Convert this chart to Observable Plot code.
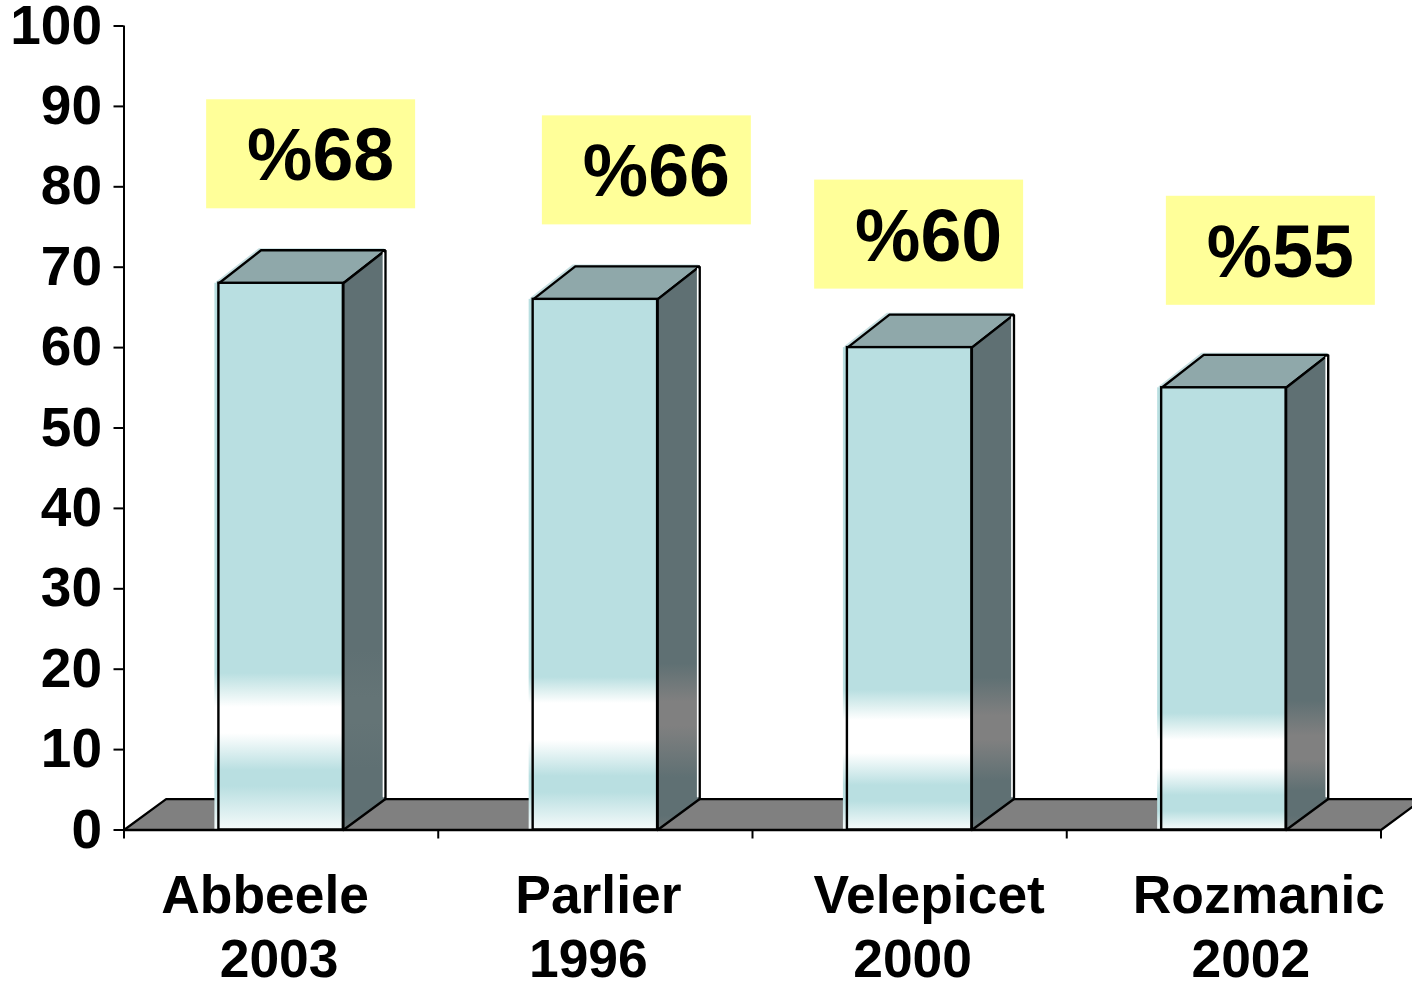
<!DOCTYPE html>
<html>
<head>
<meta charset="utf-8">
<style>
html,body{margin:0;padding:0;background:#fff;}
svg{display:block;}
</style>
<script src="https://cdn.jsdelivr.net/npm/d3@7"></script>
<script src="https://cdn.jsdelivr.net/npm/@observablehq/plot@0.6"></script>
</head>
<body>
<div id="chart"></div>
<script>
// Data
const authors = ["Abbeele", "Parlier", "Velepicet", "Rozmanic"];
const years = ["2003", "1996", "2000", "2002"];
const values = [68, 66, 60, 55];
const valueLabels = ["%68", "%66", "%60", "%55"];
const yTicks = [0, 10, 20, 30, 40, 50, 60, 70, 80, 90, 100];
const xTicks = [0, 1, 2, 3, 4];

// Styling and layout (not data)
const FONT = "Liberation Sans";
const BLUE = "#b9dfe1", TOP = "#8fa8aa", DARK = "#5f7073", GRAY = "#808080", YELLOW = "#ffff99";
const halfBar = 0.198, depthX = 0.134, depthY = 4.1, floorDepth = 3.85;
const authorNudge = [-16, 3, 19.5, 35];
const yearNudge = [-2, -7, 3, 27];
const boxNudgeX = [30, 51.5, 9.5, 47];
const boxCenterAbove = [129, 129, 113, 137]; // px above the bar front top
const SCALE_BASE = 829;
// distances (px) above the baseline: white base, lower blue, white band, upper blue
const frontBands = [
  [0, 51, 96, 122, 156],
  [0, 45, 89, 126, 152],
  [0, 36, 76, 109, 139],
  [0, 26, 61, 89, 116]
];
// side-face bands: [lower dark, gray centre, upper dark, gray tone]
const sideBands = [
  [60, 120, 180, "#647476"],
  [52, 116, 166, GRAY],
  [49, 102, 152, GRAY],
  [39, 82, 129, GRAY]
];

function stopsSvg(list) {
  return list.map(([d, c]) => `<stop offset="${d / SCALE_BASE}" stop-color="${c}"/>`).join("");
}
function defsMark() {
  const parts = values.map((_, i) => {
    const f = frontBands[i], s = sideBands[i];
    const front = stopsSvg([[f[0], "#f4fafa"], [f[1] - 8, BLUE], [f[1] + 8, BLUE], [f[2], "#ffffff"], [f[3], "#ffffff"], [(f[3] + f[4]) / 2, "#dcefef"], [f[4], BLUE]]);
    const side = stopsSvg([[0, "#6e7778"], [14, DARK], [s[0], DARK], [s[1] - 12, s[3]], [s[1] + 12, s[3]], [s[2], DARK]]);
    const attrs = `gradientUnits="userSpaceOnUse" x1="0" x2="0" y1="${SCALE_BASE}" y2="0"`;
    return `<linearGradient id="front${i}" ${attrs}>${front}</linearGradient><linearGradient id="side${i}" ${attrs}>${side}</linearGradient>`;
  }).join("");
  const g = document.createElementNS("http://www.w3.org/2000/svg", "defs");
  g.innerHTML = parts;
  return g;
}

const marks = [defsMark];

// floor
marks.push(Plot.line(
  [{x: 0, y: 0}, {x: depthX, y: floorDepth}, {x: 4 + depthX, y: floorDepth}, {x: 4, y: 0}, {x: 0, y: 0}],
  {x: "x", y: "y", fill: GRAY, stroke: "#000", strokeWidth: 2.2, strokeLinejoin: "miter", curve: "linear"}
));

// bars
values.forEach((v, i) => {
  const L = i + 0.5 - halfBar, R = i + 0.5 + halfBar;
  const polyOpts = {x: "x", y: "y", stroke: "#000", strokeWidth: 2.4, strokeLinejoin: "miter", curve: "linear"};
  const topPts = [{x: L, y: v}, {x: L + depthX, y: v + depthY}, {x: R + depthX, y: v + depthY}, {x: R, y: v}, {x: L, y: v}];
  const sidePts = [{x: R, y: 0}, {x: R + depthX, y: floorDepth}, {x: R + depthX, y: v + depthY}, {x: R, y: v}, {x: R, y: 0}];
  // pale halo to the left of each bar
  marks.push(Plot.rect([0], {x1: L, x2: L + 0.02, y1: 0, y2: v, dx: -3, fill: `url(#front${i})`, insetLeft: -1}));
  marks.push(Plot.line(topPts, {x: "x", y: "y", stroke: "#c6dfe1", strokeWidth: 2, dx: -2, dy: -1, curve: "linear"}));
  marks.push(Plot.line(topPts, {...polyOpts, fill: TOP}));
  marks.push(Plot.line(sidePts, {...polyOpts, fill: `url(#side${i})`}));
  marks.push(Plot.line([{x: R + depthX, y: floorDepth + 0.3}, {x: R + depthX, y: v + depthY - 0.3}], {x: "x", y: "y", stroke: "#fff", strokeWidth: 1.6, dx: -2}));
  marks.push(Plot.rect([0], {x1: L, x2: R, y1: 0, y2: v, fill: `url(#front${i})`, stroke: "#000", strokeWidth: 2.4}));
  // value box and its label
  const c = i + 0.5;
  const boxDy = -boxCenterAbove[i];
  marks.push(Plot.rect([0], {x1: c - 0.3325, x2: c + 0.3325, y1: v - 6.78, y2: v + 6.78, dx: boxNudgeX[i], dy: boxDy, fill: YELLOW}));
  marks.push(Plot.text([valueLabels[i]], {x: c, y: v, text: d => d, dx: boxNudgeX[i] + 9.5, dy: boxDy + 2.5, fontSize: 73.5, fontWeight: "bold", fontFamily: FONT, fill: "#000", lineAnchor: "middle"}));
  // category labels
  marks.push(Plot.text([authors[i]], {x: c, y: 0, text: d => d, dx: authorNudge[i], dy: 83, fontSize: 53.4, fontWeight: "bold", fontFamily: FONT, fill: "#000", lineAnchor: "bottom"}));
  marks.push(Plot.text([years[i]], {x: c, y: 0, text: d => d, dx: yearNudge[i], dy: 147, fontSize: 53.4, fontWeight: "bold", fontFamily: FONT, fill: "#000", lineAnchor: "bottom"}));
});

// axes
marks.push(Plot.ruleX([0], {y1: 0, y2: 100, stroke: "#000", strokeWidth: 2}));
marks.push(Plot.ruleY([0], {x1: 0, x2: 4, stroke: "#000", strokeWidth: 2.4}));
marks.push(Plot.axisY({ticks: yTicks, tickFormat: d => String(d), tickSize: 10, tickPadding: 12, fontSize: 55, fontWeight: "bold", fontFamily: FONT, color: "#000", strokeWidth: 2, label: null}));
marks.push(Plot.axisX({ticks: xTicks, tickFormat: () => "", tickSize: 9, strokeWidth: 2, label: null}));

const chart = Plot.plot({
  width: 1412,
  height: 981,
  marginLeft: 123.5,
  marginRight: 31.5,
  marginTop: 25.5,
  marginBottom: 151.5,
  x: {domain: [0, 4]},
  y: {domain: [0, 100]},
  style: {background: "#fff", overflow: "hidden", color: "#000"},
  marks
});
document.getElementById("chart").appendChild(chart);
</script>
</body>
</html>
